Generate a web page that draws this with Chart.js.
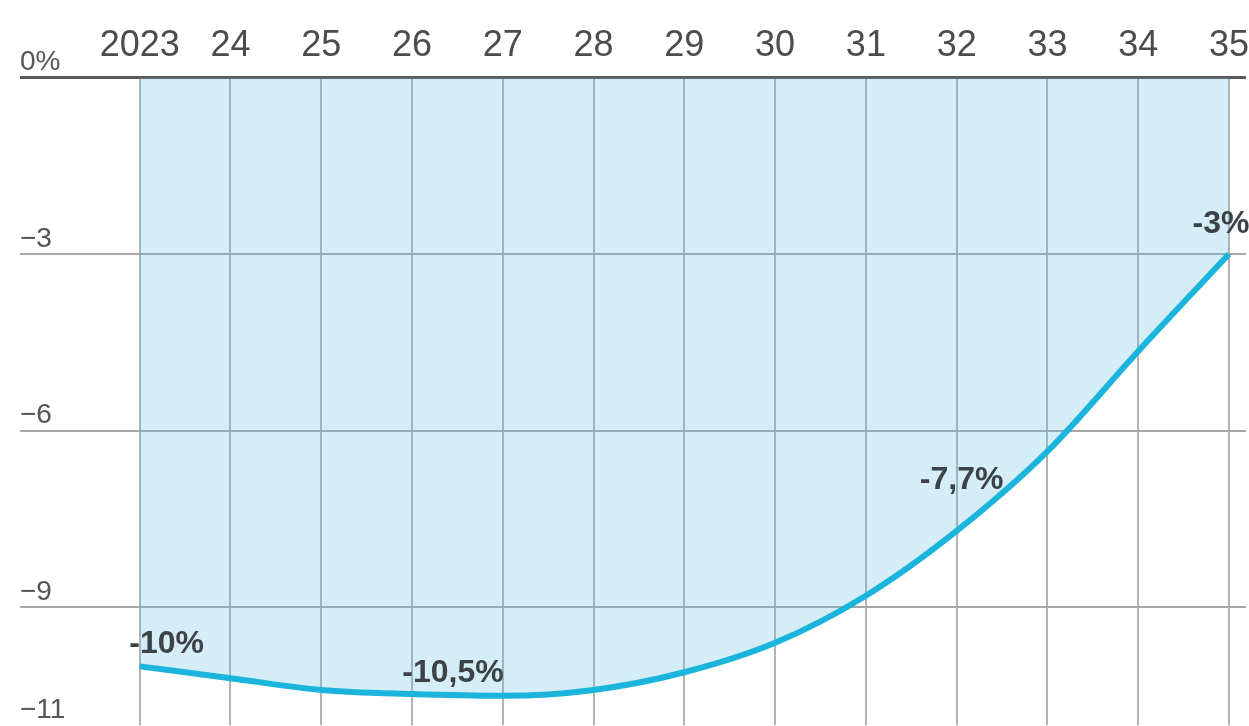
<!DOCTYPE html>
<html>
<head>
<meta charset="utf-8">
<script src="https://cdn.jsdelivr.net/npm/chart.js@4"></script>
<style>
  html, body { margin: 0; padding: 0; background: #fff; }
  #wrap { width: 1249px; height: 726px; }
</style>
</head>
<body>
<div id="wrap"><canvas id="forecast" width="1249" height="726"></canvas></div>
<script>
// years on the x axis and how they are printed
const years = [2023, 2024, 2025, 2026, 2027, 2028, 2029, 2030, 2031, 2032, 2033, 2034, 2035];
const yearLabels = ['2023', '24', '25', '26', '27', '28', '29', '30', '31', '32', '33', '34', '35'];
// values, in %
const values = [-10.0, -10.2, -10.4, -10.47, -10.5, -10.4, -10.1, -9.6, -8.8, -7.7, -6.35, -4.65, -3.0];
// y ticks
const yTicks = [0, -3, -6, -9, -11];
const yTickLabels = ['0%', '\u22123', '\u22126', '\u22129', '\u221211'];
// callouts on the curve
const calloutIndex = [0, 3, 9, 12];
const calloutText = ['-10%', '-10,5%', '-7,7%', '-3%'];
const calloutShift = [[27, -13], [41, -12], [5, -42], [-8, -21]];

const pxPerYear = 91;
const xMin = 2023 - 120 / pxPerYear;
const xMax = 2035 + 17 / pxPerYear;

const callouts = {
  id: 'callouts',
  afterDatasetsDraw(chart) {
    const c = chart.ctx;
    const pts = chart.getDatasetMeta(0).data;
    c.save();
    c.font = 'bold 32px "Liberation Sans", Arial, sans-serif';
    c.fillStyle = '#3b4346';
    c.textAlign = 'center';
    c.textBaseline = 'alphabetic';
    calloutIndex.forEach((idx, i) => {
      const p = pts[idx];
      c.fillText(calloutText[i], p.x + calloutShift[i][0], p.y + calloutShift[i][1]);
    });
    c.restore();
  }
};

const ctx = document.getElementById('forecast').getContext('2d');
new Chart(ctx, {
  type: 'line',
  data: {
    datasets: [{
      data: years.map((y, i) => ({ x: y, y: values[i] })),
      borderColor: '#1bb4dc',
      borderWidth: 6,
      backgroundColor: 'rgba(100, 190, 225, 0.27)',
      fill: 'end',
      pointRadius: 0,
      cubicInterpolationMode: 'monotone',
      clip: false
    }]
  },
  options: {
    responsive: false,
    animation: false,
    layout: { padding: { top: 24, left: 20, right: 0, bottom: 0 } },
    plugins: { legend: { display: false }, tooltip: { enabled: false } },
    scales: {
      x: {
        type: 'linear',
        position: 'top',
        min: xMin,
        max: xMax,
        afterBuildTicks: (axis) => { axis.ticks = years.map(v => ({ value: v })); },
        border: { display: false },
        grid: { color: '#b2b2b2', lineWidth: 2, drawTicks: true, tickLength: 10, tickColor: 'rgba(0,0,0,0)' },
        ticks: {
          color: '#4c4c4c',
          padding: 0,
          maxRotation: 0,
          autoSkip: false,
          font: { family: '"Liberation Sans", Arial, sans-serif', size: 36 },
          callback: (v) => yearLabels[years.indexOf(v)]
        }
      },
      y: {
        min: -11,
        max: 0,
        afterBuildTicks: (axis) => { axis.ticks = yTicks.map(v => ({ value: v })); },
        border: { display: false },
        grid: {
          drawTicks: false,
          color: (c) => c.tick.value === 0 ? '#5a5a5a' : (c.tick.value === -11 ? 'rgba(0,0,0,0)' : '#a6a6a6'),
          lineWidth: (c) => c.tick.value === 0 ? 3 : 2
        },
        ticks: {
          mirror: true,
          padding: 0,
          labelOffset: -15,
          color: '#555',
          font: { family: '"Liberation Sans", Arial, sans-serif', size: 28, lineHeight: 0.05 },
          callback: (v) => yTickLabels[yTicks.indexOf(v)]
        }
      }
    }
  },
  plugins: [callouts]
});
</script>
</body>
</html>
